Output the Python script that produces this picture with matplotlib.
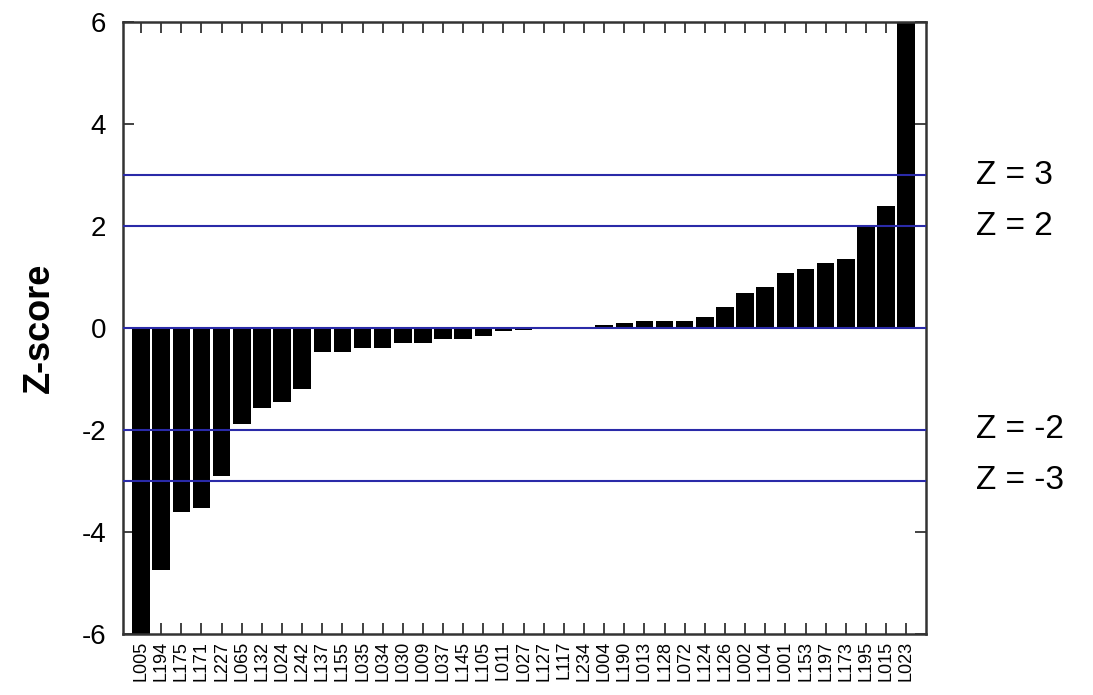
import numpy as np
import matplotlib
matplotlib.use("Agg")
import matplotlib.pyplot as plt
import matplotlib.transforms as mtransforms

plt.rcParams['font.family'] = ['Liberation Sans', 'DejaVu Sans']

# lab codes and their z-scores, sorted
labs = ['L005', 'L194', 'L175', 'L171', 'L227', 'L065', 'L132', 'L024', 'L242',
        'L137', 'L155', 'L035', 'L034', 'L030', 'L009', 'L037', 'L145', 'L105',
        'L011', 'L027', 'L127', 'L117', 'L234', 'L004', 'L190', 'L013', 'L128',
        'L072', 'L124', 'L126', 'L002', 'L104', 'L001', 'L153', 'L197', 'L173',
        'L195', 'L015', 'L023']
zscores = [-6.4, -4.75, -3.61, -3.53, -2.91, -1.89, -1.57, -1.46, -1.19,
           -0.48, -0.48, -0.40, -0.40, -0.29, -0.29, -0.21, -0.21, -0.16,
           -0.05, -0.04, 0.0, 0.0, 0.0, 0.06, 0.10, 0.14, 0.14,
           0.14, 0.21, 0.42, 0.69, 0.81, 1.08, 1.16, 1.27, 1.35,
           2.00, 2.40, 6.4]

# reference lines
zlines = [3, 2, 0, -2, -3]
zline_labels = {3: 'Z = 3', 2: 'Z = 2', -2: 'Z = -2', -3: 'Z = -3'}
yticks = [-6, -4, -2, 0, 2, 4, 6]

blue = '#2a2aa8'

fig = plt.figure(figsize=(10.93, 6.95), dpi=100)
ax = fig.add_axes([0.1125, 0.0878, 0.735, 0.8805])

x = np.arange(len(labs))
ax.bar(x, zscores, width=0.87, color='black', edgecolor='none', zorder=2)
for z in zlines:
    ax.axhline(z, color=blue, lw=1.5, zorder=3)

ax.set_xlim(-0.9, len(labs) + 0.0)
ax.set_ylim(-6, 6)
ax.set_yticks(yticks)
ax.set_yticklabels([str(t) for t in yticks], fontsize=20)
ax.set_xticks(x)
ax.set_xticklabels(labs, rotation=90, fontsize=13)

ax.tick_params(axis='x', direction='in', length=8, width=1.2, top=True, pad=5, color='#222222')
ax.tick_params(axis='y', direction='in', length=8, width=1.2, right=True, pad=12, color='#222222')
for s in ax.spines.values():
    s.set_linewidth(1.8)
    s.set_color('#333333')

ax.set_ylabel('Z-score', fontsize=26, fontweight='bold', labelpad=18)

trans = mtransforms.blended_transform_factory(ax.transAxes, ax.transData)
for z, lab in zline_labels.items():
    ax.text(1.062, z, lab, transform=trans, fontsize=24, va='center', ha='left')

fig.savefig('out.png', dpi=100)
